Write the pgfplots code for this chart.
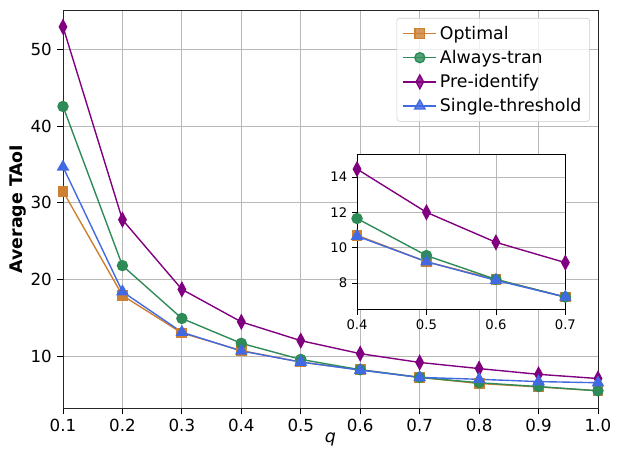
\documentclass[border=0pt]{standalone}
\usepackage{fontspec}
\setmainfont{DejaVu Sans}
\usepackage{pgfplots}
\pgfplotsset{compat=1.18}

\definecolor{copt}{HTML}{CD7F32}
\definecolor{calw}{HTML}{2E8B57}
\definecolor{cpre}{HTML}{800080}
\definecolor{csin}{HTML}{4169E1}

% series data
\pgfplotstableread{
q    opt   alw   pre   sin
0.1  31.5  42.6  53.0  34.7
0.2  17.9  21.8  27.8  18.4
0.3  13.0  14.9  18.7  13.1
0.4  10.7  11.65 14.45 10.65
0.5  9.2   9.55  12.0  9.2
0.6  8.2   8.2   10.3  8.15
0.7  7.2   7.2   9.15  7.2
0.8  6.4   6.5   8.35  6.95
0.9  5.95  6.0   7.6   6.65
1.0  5.45  5.45  7.05  6.5
}\datatable

\pgfplotsset{
  every axis plot/.append style={line width=1pt},
  mopt/.style={color=copt, mark=square*, mark size=3.4pt, mark options={solid}},
  malw/.style={color=calw, mark=*, mark size=3.6pt},
  mpre/.style={color=cpre, mark=diamond*, mark size=4.9pt, mark options={xscale=0.72}},
  msin/.style={color=csin, mark=triangle*, mark size=4.3pt},
  legend image code/.code={%
    \draw[mark repeat=2,mark phase=2] plot coordinates {(0pt,0pt) (12pt,0pt) (24pt,0pt)};},
}

\begin{document}
\begin{tikzpicture}
\begin{axis}[
    name=main,
    scale only axis,
    width=385.2pt, height=286.56pt,
    xmin=0.1, xmax=1.0,
    ymin=3.2, ymax=55.2,
    xtick={0.1,0.2,...,1.0},
    ytick={10,20,30,40,50},
    xticklabel style={/pgf/number format/fixed,/pgf/number format/fixed zerofill,/pgf/number format/precision=1},
    /pgf/number format/assume math mode=true,
    tick label style={font=\fontsize{12}{14}\selectfont},
    tick align=outside, tick pos=left,
    major tick length=4.5pt,
    every tick/.style={black, line width=0.6pt},
    grid=major,
    grid style={color=black!28, line width=0.6pt},
    axis line style={line width=0.7pt, black!85},
    xlabel={\textit{q}},
    ylabel={\textbf{Average TAoI}},
    label style={font=\fontsize{12.5}{14}\selectfont},
    xlabel style={at={(axis description cs:0.5,-0.08)}, anchor=center},
    ylabel style={at={(axis description cs:-0.084,0.5)}, anchor=center},
    clip marker paths=false,
    legend style={at={(0.985,0.98)}, anchor=north east,
      font=\fontsize{12.5}{14}\selectfont,
      fill=white, fill opacity=0.8, text opacity=1,
      draw=black!20, rounded corners=2pt,
      row sep=2.4pt, inner xsep=4pt, inner ysep=3.5pt},
    legend cell align=left,
]
\addplot[mopt] table[x=q,y=opt] {\datatable};
\addplot[malw] table[x=q,y=alw] {\datatable};
\addplot[mpre] table[x=q,y=pre] {\datatable};
\addplot[msin] table[x=q,y=sin] {\datatable};
\legend{Optimal,Always-tran,Pre-identify,Single-threshold}
\end{axis}

\begin{axis}[
    at={(main.south west)}, xshift=211.7pt, yshift=70.6pt, anchor=south west,
    scale only axis,
    width=150pt, height=111.6pt,
    xmin=0.4, xmax=0.7,
    ymin=6.47, ymax=15.25,
    xtick={0.4,0.5,0.6,0.7},
    ytick={8,10,12,14},
    xticklabel style={/pgf/number format/fixed,/pgf/number format/fixed zerofill,/pgf/number format/precision=1},
    /pgf/number format/assume math mode=true,
    tick label style={font=\fontsize{9.5}{11}\selectfont},
    tick align=outside, tick pos=left,
    major tick length=3.5pt,
    every tick/.style={black, line width=0.6pt},
    grid=major,
    grid style={color=black!28, line width=0.6pt},
    axis line style={line width=0.7pt, black},
    axis background/.style={fill=white},
    clip marker paths=false,
    restrict x to domain=0.4:0.7,
]
\addplot[mopt] table[x=q,y=opt] {\datatable};
\addplot[malw] table[x=q,y=alw] {\datatable};
\addplot[mpre] table[x=q,y=pre] {\datatable};
\addplot[msin] table[x=q,y=sin] {\datatable};
\end{axis}
\pgfresetboundingbox
\path (main.south west) ++(-45.36pt,-33.12pt) rectangle ++(444.96pt,326.88pt);
\end{tikzpicture}
\end{document}
